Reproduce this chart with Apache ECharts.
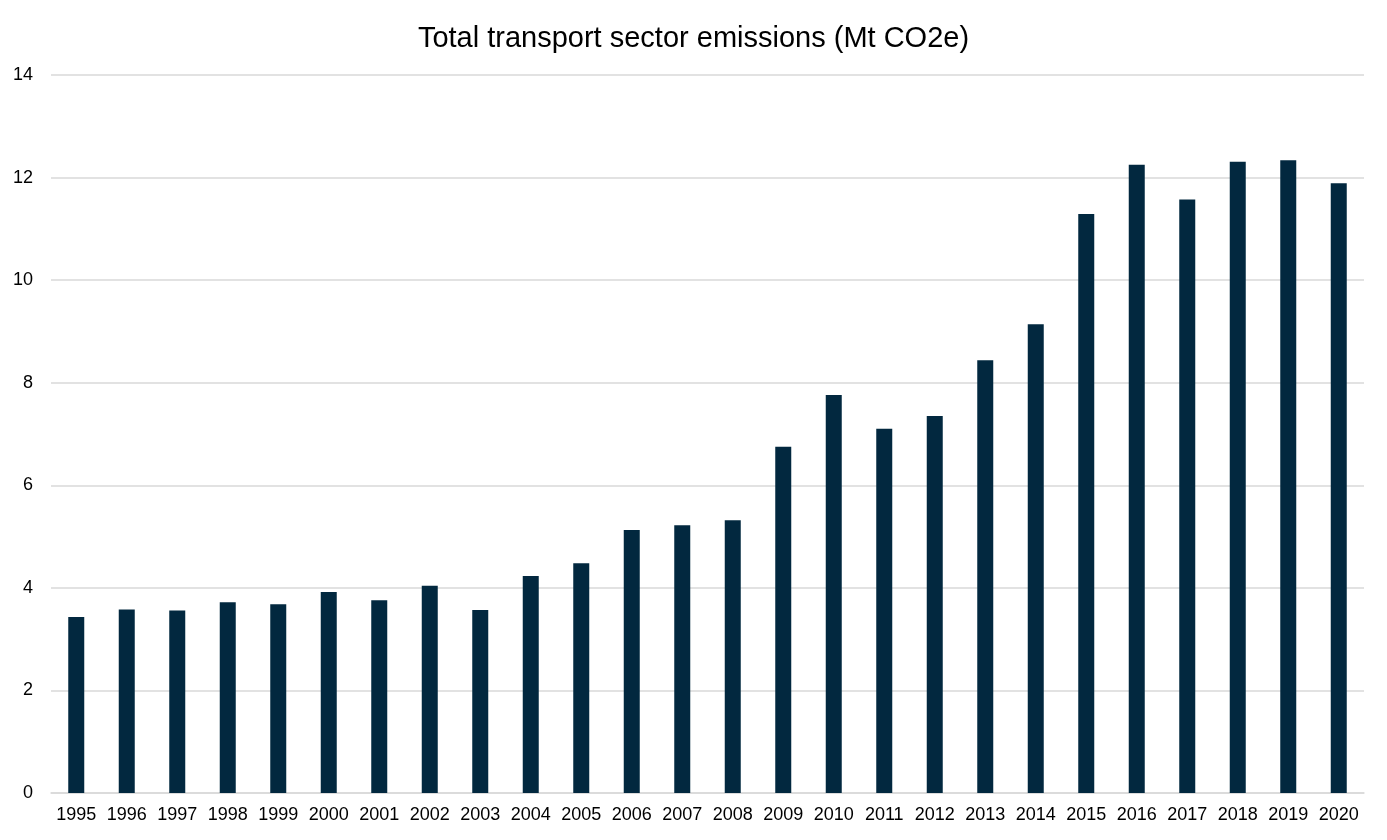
<!DOCTYPE html>
<html>
<head>
<meta charset="utf-8">
<script src="https://cdn.jsdelivr.net/npm/echarts@6/dist/echarts.min.js"></script>
<style>
html,body{margin:0;padding:0;background:#fff;}
#main{width:1387px;height:840px;}
</style>
</head>
<body>
<div id="main"></div>
<script>
var years = ['1995','1996','1997','1998','1999','2000','2001','2002','2003','2004','2005','2006','2007',
  '2008','2009','2010','2011','2012','2013','2014','2015','2016','2017','2018','2019','2020'];
var emissions = [3.43, 3.58, 3.56, 3.72, 3.68, 3.92, 3.76, 4.04, 3.57, 4.23, 4.48, 5.13, 5.22,
  5.32, 6.75, 7.76, 7.10, 7.35, 8.44, 9.14, 11.29, 12.25, 11.57, 12.31, 12.34, 11.89];
var yTicks = [0, 2, 4, 6, 8, 10, 12, 14];

var font = 'Liberation Sans, Arial, sans-serif';

echarts.init(document.getElementById('main')).setOption({
  animation: false,
  title: {
    text: 'Total transport sector emissions (Mt CO2e)',
    left: 'center',
    top: 19,
    textStyle: {fontFamily: font, fontSize: 29, fontWeight: 'normal', color: '#000'}
  },
  grid: {left: 51, right: 23, top: 75, bottom: 47},
  xAxis: {
    type: 'category',
    data: years,
    axisLine: {lineStyle: {color: '#d9d9d9', width: 1.5}},
    axisTick: {show: false},
    axisLabel: {fontFamily: font, fontSize: 18, color: '#000', margin: 13, interval: 0}
  },
  yAxis: {
    type: 'value',
    min: yTicks[0],
    max: yTicks[yTicks.length - 1],
    interval: 2,
    axisLine: {show: false},
    axisTick: {show: false},
    splitLine: {lineStyle: {color: '#d9d9d9', width: 1.5}},
    axisLabel: {fontFamily: font, fontSize: 18, color: '#000', margin: 18}
  },
  series: [{
    type: 'bar',
    data: emissions,
    barWidth: 16,
    itemStyle: {color: '#02283f'}
  }]
});
</script>
</body>
</html>
